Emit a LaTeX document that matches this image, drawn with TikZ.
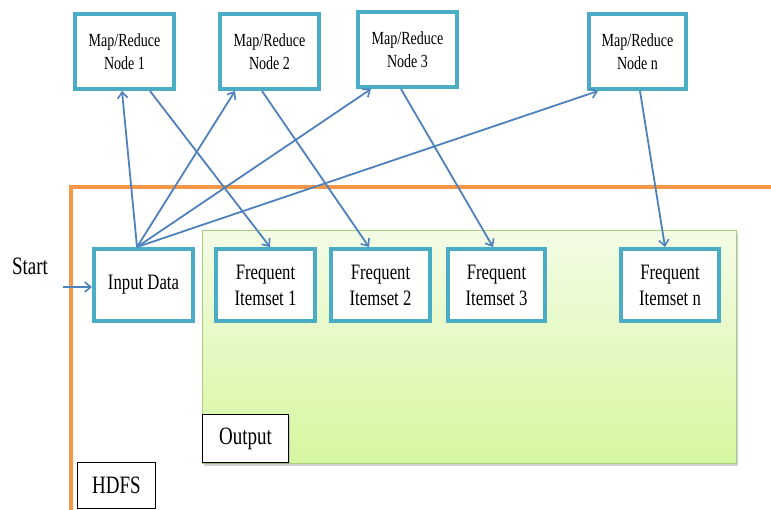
\documentclass[tikz,border=0pt]{standalone}
\usepackage{fontspec}
\setmainfont{Liberation Serif}[FakeStretch=0.76]
\usetikzlibrary{arrows.meta,shadows,calc}
\definecolor{teal}{RGB}{75,172,198}
\definecolor{flow}{RGB}{79,129,189}
\definecolor{hdfs}{RGB}{247,150,70}
\definecolor{outtop}{RGB}{243,252,230}
\definecolor{outbot}{RGB}{215,247,160}
\definecolor{outline}{RGB}{170,205,125}
\tikzset{
  mrbox/.style={draw=teal, line width=4pt, fill=white, minimum width=99pt,
    minimum height=75pt, align=center, inner sep=0pt,
    font=\fontsize{18.5}{23.4}\selectfont},
  itembox/.style={draw=teal, line width=4pt, fill=white, minimum width=99pt,
    minimum height=72pt, align=center, inner sep=0pt,
    font=\fontsize{22}{26}\selectfont},
  tagbox/.style={draw=black, line width=0.8pt, fill=white, inner sep=0pt,
    font=\fontsize{25}{30}\selectfont},
  flowarrow/.style={draw=flow, line width=1.8pt,
    -{Straight Barb[length=6pt,width=10pt,line width=1.6pt]}},
}
\begin{document}
\begin{tikzpicture}[x=1pt,y=-1pt]
\clip (0,0) rectangle (771,509);
\fill[white] (0,0) rectangle (771,509);

% HDFS frame (runs past the right and bottom edges)
\draw[hdfs, line width=4.5pt] (71,187) rectangle (800,540);

% Output area
\path[draw=outline, line width=0.8pt, top color=outtop, bottom color=outbot,
  drop shadow={shadow xshift=2pt, shadow yshift=-2.5pt, opacity=0.35}]
  (202,230) rectangle (736,463);

% Map/Reduce nodes
\node[mrbox] (n1) at (124.5,51.5) {Map/Reduce\\Node 1};
\node[mrbox] (n2) at (269.5,51.5) {Map/Reduce\\Node 2};
\node[mrbox] (n3) at (407.5,49.5) {Map/Reduce\\Node 3};
\node[mrbox, minimum width=97pt] (nn) at (637.5,51.5) {Map/Reduce\\Node n};

% Input and outputs
\node[itembox] (in) at (143.5,285) {Input Data};
\node[itembox] (f1) at (265.5,285) {Frequent\\Itemset 1};
\node[itembox] (f2) at (380.5,285) {Frequent\\Itemset 2};
\node[itembox, minimum width=97pt] (f3) at (496.5,285) {Frequent\\Itemset 3};
\node[itembox, minimum width=98pt] (fn) at (670,285) {Frequent\\Itemset n};

% Labels
\node[font=\fontsize{25}{30}\selectfont] (start) at (30,266) {Start};
\node[tagbox, minimum width=86pt, minimum height=48pt,
  drop shadow={shadow xshift=1.5pt, shadow yshift=-1.5pt, opacity=0.3}]
  (out) at (245.5,438.5) {Output};
\node[tagbox, minimum width=78pt, minimum height=46pt] (hd) at (116.5,485) {HDFS};

% Start arrow
\coordinate (s) at (63,287);
\draw[flowarrow] (s) -- (s -| in.west);

% Input data to the Map/Reduce nodes
\coordinate (src) at ([xshift=-6.5pt]in.north);
\draw[flowarrow] (src) -- ([xshift=-2.5pt]n1.south);
\draw[flowarrow] (src) -- ([xshift=-34.5pt]n2.south);
\draw[flowarrow] (src) -- ([xshift=-36.5pt]n3.south);
\draw[flowarrow] (src) -- ([xshift=-39.5pt]nn.south);

% Map/Reduce nodes to frequent itemsets
\draw[flowarrow] ([xshift=25.5pt]n1.south) -- ([xshift=4.5pt]f1.north);
\draw[flowarrow] ([xshift=-7.5pt]n2.south) -- ([xshift=-11.5pt]f2.north);
\draw[flowarrow] ([xshift=-6.5pt]n3.south) -- ([xshift=-3.5pt]f3.north);
\draw[flowarrow] ([xshift=2.5pt]nn.south) -- ([xshift=-5pt]fn.north);
\end{tikzpicture}
\end{document}
